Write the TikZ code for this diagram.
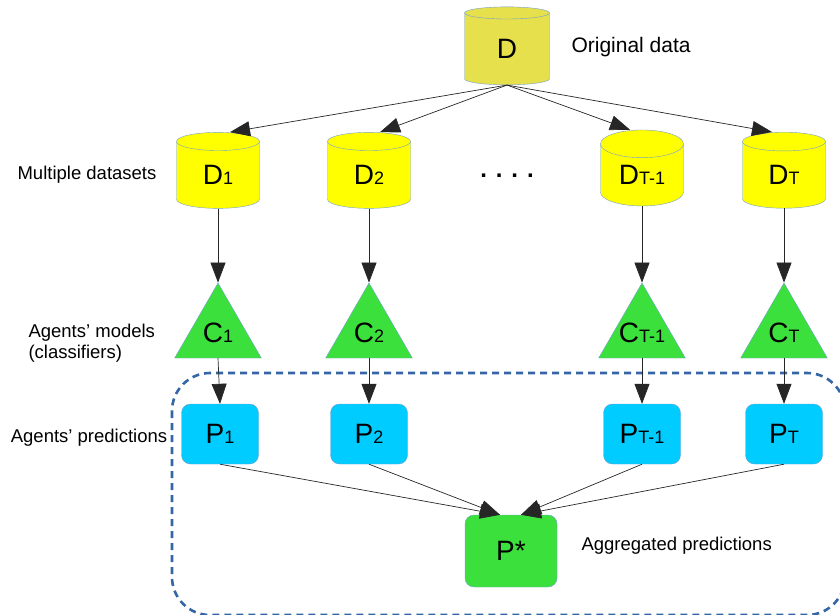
\documentclass[tikz,border=0pt]{standalone}
\usepackage{fontspec}
\setmainfont{Liberation Sans}
\usetikzlibrary{shapes.geometric, arrows.meta}

\definecolor{srcyellow}{RGB}{230,224,76}
\definecolor{setyellow}{RGB}{255,255,0}
\definecolor{edgeblue}{RGB}{114,159,207}
\definecolor{agentgreen}{RGB}{60,224,60}
\definecolor{predcyan}{RGB}{0,204,255}
\definecolor{groupblue}{RGB}{52,101,164}

\newcommand{\sym}[2]{{\fontsize{28}{30}\selectfont #1}{\fontsize{18}{20}\selectfont #2}}

\begin{document}
\begin{tikzpicture}[x=1pt, y=-1pt,
  data/.style={cylinder, shape border rotate=90, aspect=0.6, draw=edgeblue, fill=#1,
    minimum width=83pt, minimum height=76pt, inner sep=0pt},
  model/.style={regular polygon, regular polygon sides=3, draw=edgeblue, fill=agentgreen,
    minimum size=100pt, inner sep=0pt, label={[name=#1l]center:\sym{C}{#1}}},
  pred/.style={rectangle, rounded corners=9pt, draw=edgeblue, fill=#1,
    minimum width=77pt, minimum height=60pt},
  lbl/.style={font=\fontsize{18.5}{21}\selectfont, align=left},
  link/.style={black!85, line width=0.7pt, -{Triangle[length=20pt,width=15pt]}}]
\useasboundingbox (0,0) rectangle (840,614);
\clip (0,0) rectangle (840,614);

% group of predictions
\draw[groupblue, line width=2.6pt, dash pattern=on 7pt off 5pt, rounded corners=38pt]
  (172,373) rectangle (845,615);

% data
\node[data=srcyellow, minimum width=85pt, minimum height=78pt] (d) at (507,49) {\sym{D}{}};
\node[data=setyellow] (d1) at (218,175) {\sym{D}{1}};
\node[data=setyellow] (d2) at (369,175) {\sym{D}{2}};
\node[data=setyellow] (dt1) at (642,175) {\sym{D}{T-1}};
\node[data=setyellow] (dt) at (784,175) {\sym{D}{T}};
\node (dots) at (507,176) {\fontsize{24}{26}\selectfont\bfseries . . . .};

% classifiers
\node[model=1] (c1) at (218,333) {};
\node[model=2] (c2) at (369,333) {};
\node[model=T-1] (ct1) at (642,333) {};
\node[model=T] (ct) at (784,333) {};

% predictions
\node[pred=predcyan] (p1) at (220,434) {\sym{P}{1}};
\node[pred=predcyan] (p2) at (369,434) {\sym{P}{2}};
\node[pred=predcyan] (pt1) at (642,434) {\sym{P}{T-1}};
\node[pred=predcyan] (pt) at (784,434) {\sym{P}{T}};
\node[pred=agentgreen, minimum width=92pt, minimum height=72pt] (pstar) at (511,551) {\sym{P*}{}};

% labels
\node[lbl, font=\fontsize{21}{24}\selectfont, anchor=west] (orig) at (568,47) {Original data};
\node[lbl] (multi) at (87,175) {Multiple datasets};
\node[lbl, anchor=west] (models) at (25,343) {Agents' models\\(classifiers)};
\node[lbl] (agpred) at (89,438) {Agents' predictions};
\node[lbl, anchor=west] (aggr) at (578,546) {Aggregated predictions};

% arrows
\draw[link] (d.south) -- ([xshift=12pt]d1.north);
\draw[link] (d.south) -- ([xshift=11pt]d2.north);
\draw[link] (d.south) -- ([xshift=-12pt]dt1.north);
\draw[link] (d.south) -- ([xshift=-12pt]dt.north);
\draw[link] (d1.south) -- (c1.north);
\draw[link] (d2.south) -- (c2.north);
\draw[link] (dt1.south) -- (ct1.north);
\draw[link] (dt.south) -- (ct.north);
\draw[link] (c1.south) -- (p1.north);
\draw[link] (c2.south) -- (p2.north);
\draw[link] (ct1.south) -- (pt1.north);
\draw[link] (ct.south) -- (pt.north);
\draw[link] (p1.south) -- ([xshift=-11pt]pstar.north);
\draw[link] (p2.south) -- ([xshift=-11pt]pstar.north);
\draw[link] (pt1.south) -- ([xshift=10pt]pstar.north);
\draw[link] (pt.south) -- ([xshift=10pt]pstar.north);
\end{tikzpicture}
\end{document}
